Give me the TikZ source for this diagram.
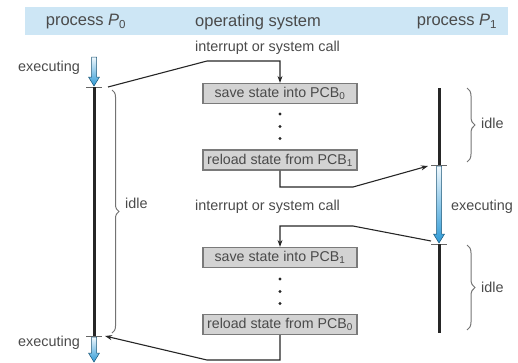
\documentclass[tikz,border=0pt]{standalone}
\usepackage{fontspec}
\setmainfont{Liberation Sans}
\usetikzlibrary{decorations.pathreplacing,arrows.meta,calc}
\definecolor{band}{HTML}{CDE6F5}
\definecolor{txt}{HTML}{4A4A4A}
\definecolor{boxfill}{HTML}{D3D3D3}
\definecolor{boxline}{HTML}{7A7A7A}
\definecolor{arrowblue}{HTML}{2E9AD6}
\definecolor{arrowlight}{HTML}{F0F8FD}
\newcommand\execarrow[3]{%
  \shade[top color=arrowlight,bottom color=arrowblue,draw=arrowblue!55!black,line width=0.5pt]
  (#1-2.5,#2) -- (#1+2.5,#2) -- (#1+2.5,#3-9) -- (#1+5.5,#3-9) -- (#1,#3) -- (#1-5.5,#3-9) -- (#1-2.5,#3-9) -- cycle;}
\tikzset{
  hdr/.style={text=txt,font=\fontsize{16.5}{19}\selectfont,inner sep=0pt},
  lbl/.style={text=txt,font=\fontsize{14.4}{17}\selectfont,inner sep=0pt},
  stepbox/.style={draw=boxline,fill=boxfill,line width=1.2pt,minimum width=154pt,minimum height=20pt,inner sep=0pt,text=txt,font=\fontsize{14.2}{17}\selectfont},
  conn/.style={draw=black!85,line width=1.1pt},
  connarrow/.style={conn,-{Stealth[length=7pt,width=5pt]}},
  timeline/.style={line width=3pt,black!85},
  tick/.style={draw=black!60,line width=0.8pt},
  bracestyle/.style={draw=black!55,line width=1pt,decorate},
}
\begin{document}
\begin{tikzpicture}[x=1pt,y=-1pt]
\useasboundingbox (0,0) rectangle (518,362);
% header
\fill[band] (25,7) rectangle (508,35);
\node[hdr] (hp0) at (86,22) {process \textit{P}\textsubscript{0}};
\node[hdr] (hos) at (258,22) {operating system};
\node[hdr] (hp1) at (457,22) {process \textit{P}\textsubscript{1}};
% labels
\node[lbl] (int1) at (267.5,47.5) {interrupt or system call};
\node[lbl] (int2) at (267.5,207) {interrupt or system call};
\node[lbl,anchor=east] (ex0a) at (80,68) {executing};
\node[lbl,anchor=east] (ex0b) at (80,343) {executing};
\node[lbl,anchor=west] (ex1) at (451,207) {executing};
% boxes
\node[stepbox] (b1) at (280,93.5) {save state into PCB\textsubscript{0}};
\node[stepbox] (b2) at (280,160) {reload state from PCB\textsubscript{1}};
\node[stepbox] (b3) at (280,257.5) {save state into PCB\textsubscript{1}};
\node[stepbox] (b4) at (280,324.5) {reload state from PCB\textsubscript{0}};
% dots
\foreach \y in {114,126.5,138.5,279,291.5,303.5} \fill[black!85] (280,\y) circle (1.7);
% P0 timeline
\execarrow{94}{57}{86}
\draw[tick] (86,87) -- (102,87);
\draw[timeline] (94,87) -- (94,336);
\draw[tick] (86,336) -- (102,336);
\execarrow{94}{337}{362}
% P1 timeline
\draw[timeline] (439,88) -- (439,165);
\draw[tick] (431,165.5) -- (447,165.5);
\execarrow{439}{166}{243}
\draw[tick] (431,244) -- (447,244);
\draw[timeline] (439,244) -- (439,333);
% coordinates
\coordinate (p0out) at (108,87);
\coordinate (k1) at (207,61);
\coordinate (k1b) at (280,61);
\coordinate (k2) at (280,187);
\coordinate (k2b) at (353,187);
\coordinate (p1in) at (428,166);
\coordinate (p1out) at (431,241);
\coordinate (k3) at (353,226);
\coordinate (k3b) at (280,226);
\coordinate (k4) at (280,360);
\coordinate (k4b) at (207,360);
\coordinate (p0in) at (105,336);
% connectors
\draw[connarrow] (p0out) -- (k1) -- (k1b) -- (b1.north);
\draw[connarrow] (b2.south) -- (k2) -- (k2b) -- (p1in);
\draw[connarrow] (p1out) -- (k3) -- (k3b) -- (b3.north);
\draw[connarrow] (b4.south) -- (k4) -- (k4b) -- (p0in);
% braces
\draw[bracestyle,decoration={brace,amplitude=7pt}] (112,90) -- (112,333);
\node[lbl,anchor=west] (idle0) at (125,203) {idle};
\draw[bracestyle,decoration={brace,amplitude=8pt}] (467,88) -- (467,162);
\node[lbl,anchor=west] (idle1) at (481,123) {idle};
\draw[bracestyle,decoration={brace,amplitude=8pt}] (467,245) -- (467,330);
\node[lbl,anchor=west] (idle2) at (481,287) {idle};
\end{tikzpicture}
\end{document}
